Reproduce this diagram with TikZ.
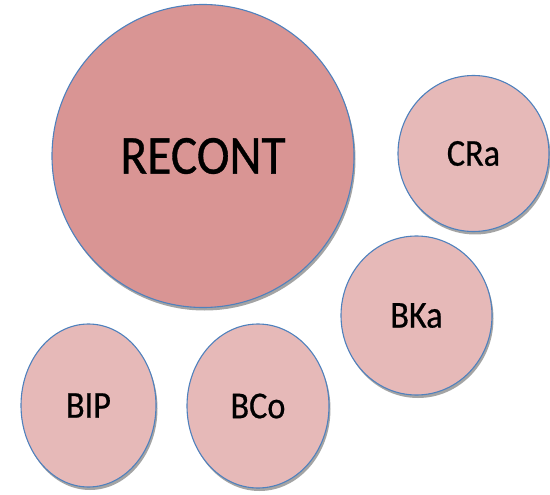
\documentclass[tikz,border=0pt]{standalone}
\usepackage{fontspec}
\setmainfont{Carlito}[FakeStretch=0.9,FakeBold=0.6]
\usetikzlibrary{shapes.geometric,shadows}
\definecolor{bigfill}{HTML}{D99594}
\definecolor{smallfill}{HTML}{E6B9B8}
\definecolor{rimblue}{HTML}{4F81BD}
\definecolor{shadowgray}{HTML}{9A9A9A}
\begin{document}
\begin{tikzpicture}[x=1pt,y=-1pt,
  bubble/.style={ellipse, draw=rimblue, line width=1.1pt, inner sep=0pt,
    drop shadow={shadow xshift=1.5pt, shadow yshift=-3pt, fill=shadowgray, opacity=0.9}},
  bigbubble/.style={bubble, fill=bigfill, font=\fontsize{55}{60}\selectfont},
  smallbubble/.style={bubble, fill=smallfill, font=\fontsize{38}{44}\selectfont}]
  \useasboundingbox (0,0) rectangle (550,495);
  \node[bigbubble, minimum width=302pt, minimum height=303pt] (recont) at (203,156) {RECONT};
  \node[smallbubble, minimum width=151pt, minimum height=156pt] (cra) at (473.5,153.5) {CRa};
  \node[smallbubble, minimum width=151pt, minimum height=159pt] (bka) at (416.5,315.5) {BKa};
  \node[smallbubble, minimum width=142pt, minimum height=164pt] (bco) at (258,406) {BCo};
  \node[smallbubble, minimum width=135pt, minimum height=163pt] (bip) at (88.5,405.5) {BIP};
\end{tikzpicture}
\end{document}
